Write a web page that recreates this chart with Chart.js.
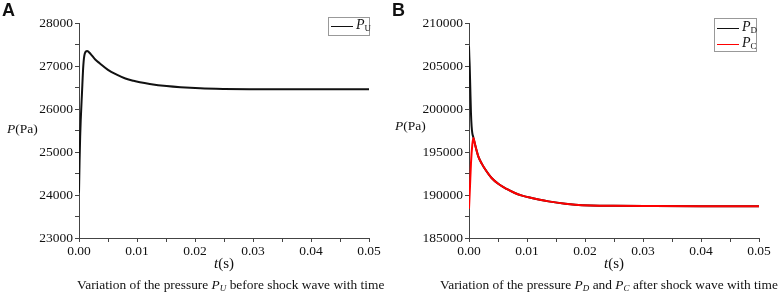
<!DOCTYPE html>
<html>
<head>
<meta charset="utf-8">
<script src="https://cdn.jsdelivr.net/npm/chart.js@4.4.0/dist/chart.umd.min.js"></script>
<style>
  body { margin:0; background:#fff; }
  #wrap { position:relative; width:782px; height:294px; overflow:hidden; font-family:"Liberation Serif","Times New Roman",serif; color:#111; }
  canvas { position:absolute; top:0; }
  .lbl { position:absolute; white-space:nowrap; }
  .panel { font-family:"Liberation Sans",Arial,sans-serif; font-weight:bold; font-size:18px; }
  .ytitle { font-size:13.5px; }
  .xtitle { font-size:15px; }
  .cap { font-size:13.4px; }
  .leg { position:absolute; border:1px solid #999; background:#fff; }
  .legrow { position:absolute; left:2px; height:14px; }
  .legline { position:absolute; left:0; top:7px; width:22px; height:0; }
  .legtxt { position:absolute; left:25px; top:-2px; font-size:14px; }
  sub { font-size:9px; vertical-align:-2px; }
</style>
</head>
<body>
<div id="wrap">
  <canvas id="chartA" width="390" height="262" style="left:0"></canvas>
  <canvas id="chartB" width="392" height="262" style="left:390px"></canvas>

  <div class="lbl panel" style="left:2px;top:0px">A</div>
  <div class="lbl panel" style="left:392px;top:0px">B</div>

  <div class="lbl ytitle" style="left:7px;top:121px"><i>P</i>(Pa)</div>
  <div class="lbl ytitle" style="left:395px;top:118px"><i>P</i>(Pa)</div>

  <div class="lbl xtitle" style="left:214px;top:255px"><i>t</i>(s)</div>
  <div class="lbl xtitle" style="left:604px;top:255px"><i>t</i>(s)</div>

  <div class="lbl cap" style="left:77px;top:277px">Variation of the pressure <i>P</i><sub><i>U</i></sub> before shock wave with time</div>
  <div class="lbl cap" style="left:440px;top:277px">Variation of the pressure <i>P</i><sub><i>D</i></sub> and <i>P</i><sub><i>C</i></sub> after shock wave with time</div>

  <!-- LEGENDS -->
  <div class="leg" style="left:328px;top:17px;width:40px;height:17px">
    <div class="legrow" style="top:1px">
      <div class="legline" style="border-top:1.5px solid #111"></div>
      <div class="legtxt"><i>P</i><sub>U</sub></div>
    </div>
  </div>
  <div class="leg" style="left:714px;top:18px;width:41px;height:32px">
    <div class="legrow" style="top:2px">
      <div class="legline" style="border-top:1.5px solid #111"></div>
      <div class="legtxt"><i>P</i><sub>D</sub></div>
    </div>
    <div class="legrow" style="top:18px">
      <div class="legline" style="border-top:1.5px solid #f00"></div>
      <div class="legtxt"><i>P</i><sub>C</sub></div>
    </div>
  </div>
</div>

<script>
// ---------- DATA

// A: pressure before shock wave
const timeU     = [0, 0.0001, 0.0002, 0.0003, 0.0005, 0.00075, 0.001, 0.0014, 0.002, 0.0028, 0.0036, 0.005,
                   0.0065, 0.008, 0.0094, 0.0105, 0.0122, 0.0151, 0.0175, 0.0209, 0.025, 0.03, 0.035, 0.04, 0.05];
const pressureU = [24050, 24800, 25350, 25750, 26330, 27020, 27290, 27350, 27280, 27150, 27060, 26910,
                   26800, 26710, 26655, 26622, 26583, 26533, 26505, 26480, 26467, 26461, 26459, 26458, 26458];

// B: pressure after shock wave
const timeD     = [0, 0.00006, 0.00012, 0.00022, 0.00034, 0.00045, 0.00057, 0.00075, 0.001, 0.0013, 0.0016,
                   0.0022, 0.00276, 0.0039, 0.0051, 0.0065, 0.0079, 0.0093, 0.0108, 0.0122, 0.0137, 0.0166,
                   0.0183, 0.021, 0.025, 0.0318, 0.04, 0.05];
const pressureD = [207300, 206000, 205000, 202500, 199500, 198000, 197200, 196700, 196000, 195200, 194500,
                   193650, 193020, 191980, 191280, 190700, 190230, 189900, 189650, 189440, 189260, 188990,
                   188880, 188790, 188740, 188710, 188690, 188680];

const timeC     = [0, 0.00017, 0.00034, 0.00057, 0.00075, 0.001, 0.0013, 0.0016, 0.0022, 0.00276, 0.0039,
                   0.0051, 0.0065, 0.0079, 0.0093, 0.0108, 0.0122, 0.0137, 0.0166, 0.0183, 0.021, 0.025,
                   0.0318, 0.04, 0.05];
const pressureC = [188400, 191000, 193700, 195850, 196630, 196000, 195200, 194500, 193650, 193020, 191980,
                   191280, 190700, 190230, 189900, 189650, 189440, 189260, 188990, 188880, 188790, 188740,
                   188710, 188690, 188680];

// x ticks every 0.005, label every 0.01
const xMin = 0, xMax = 0.05, xStep = 0.005;

// ---------- HELPERS

function toPoints(xs, ys){
  return xs.map((x, i) => ({x: x, y: ys[i]}));
}

var tickFont = {family: '"Liberation Serif","Times New Roman",serif', size: 13.5};
var axisCol = '#444';

function makeScales(yMin, yMax, yStep, yMajor){
  return {
    x: {
      type: 'linear', min: xMin, max: xMax,
      afterFit: function(s){ s.height = 24; },
      border: {display: true, color: axisCol, width: 1},
      grid: {drawOnChartArea: false, drawTicks: true, tickLength: 4, tickColor: axisCol},
      ticks: {
        stepSize: xStep, autoSkip: false, maxRotation: 0, padding: 1,
        color: '#111', font: tickFont,
        callback: function(v){
          var k = Math.round(v * 1000);
          return (k % 10 === 0) ? (k / 1000).toFixed(2) : '';
        }
      }
    },
    y: {
      min: yMin, max: yMax,
      afterFit: function(s){ s.width = 79; },
      border: {display: true, color: axisCol, width: 1},
      grid: {drawOnChartArea: false, drawTicks: true, tickLength: 4, tickColor: axisCol},
      ticks: {
        stepSize: yStep, autoSkip: false, padding: 2,
        color: '#111', font: tickFont,
        callback: function(v){ return (v % yMajor === 0) ? String(v) : ''; }
      }
    }
  };
}

function lineSet(label, pts, col, order){
  return {
    label: label, data: pts, borderColor: col, borderWidth: 2,
    pointRadius: 0, fill: false, cubicInterpolationMode: 'monotone', order: order
  };
}

function baseOptions(rightPad, scales){
  return {
    responsive: false, animation: false, devicePixelRatio: 1,
    layout: {padding: {left: 0, top: 23, right: rightPad, bottom: 0}},
    plugins: {legend: {display: false}, tooltip: {enabled: false}},
    scales: scales
  };
}

// ---------- CHART A
new Chart(document.getElementById('chartA').getContext('2d'), {
  type: 'line',
  data: {datasets: [lineSet('PU', toPoints(timeU, pressureU), '#111', 0)]},
  options: baseOptions(21, makeScales(23000, 28000, 500, 1000))
});

// ---------- CHART B (red drawn on top)
new Chart(document.getElementById('chartB').getContext('2d'), {
  type: 'line',
  data: {datasets: [
    lineSet('PD', toPoints(timeD, pressureD), '#111', 1),
    lineSet('PC', toPoints(timeC, pressureC), '#f00', 0)
  ]},
  options: baseOptions(23, makeScales(185000, 210000, 2500, 5000))
});
</script>
</body>
</html>
